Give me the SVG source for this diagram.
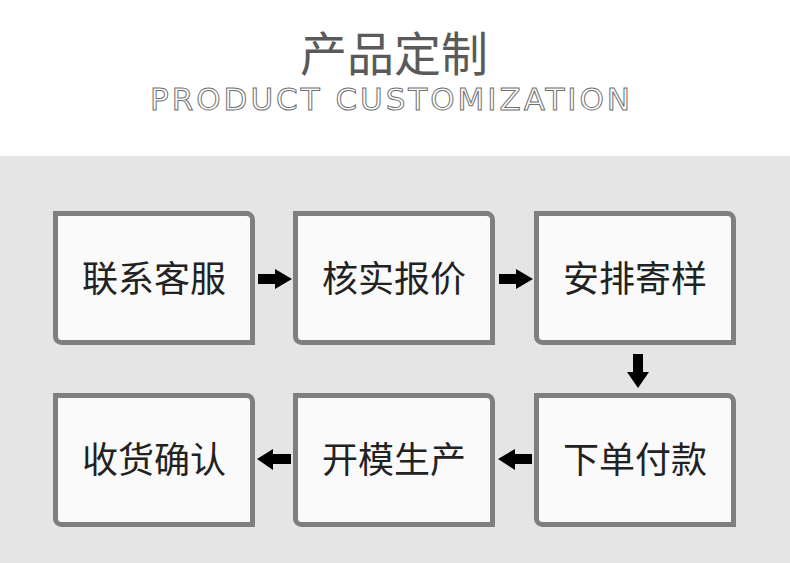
<svg xmlns="http://www.w3.org/2000/svg" width="790" height="563" viewBox="0 0 790 563">
<style>
.box{fill:#fafafa;stroke:#7f7f7f;stroke-width:5}
.lbl{font-family:"Noto Sans CJK SC","Noto Sans",sans-serif;font-size:36px;fill:#222;text-anchor:middle}
.arr{fill:#000}
</style>
<defs>
<path id="bx" d="M0,0 H191 A6,6 0 0 1 197,6 V129 H6 A6,6 0 0 1 0,123 Z"/>
</defs>
<rect x="0" y="0" width="790" height="156" fill="#ffffff"/>
<rect x="0" y="156" width="790" height="407" fill="#e5e5e5"/>
<g id="title">
<text x="394" y="71" style="font-family:'Noto Sans CJK SC',sans-serif;font-size:47px;fill:#5a5a5a;text-anchor:middle">产品定制</text>
<text x="150" y="110" textLength="480" lengthAdjust="spacing" style="font-family:'DejaVu Sans',sans-serif;font-size:31px;fill:#ffffff;stroke:#707070;stroke-width:1">PRODUCT CUSTOMIZATION</text>
</g>
<g id="n1"><use href="#bx" class="box" x="55.5" y="213.5"/><text class="lbl" x="154" y="292">联系客服</text></g>
<g id="n2"><use href="#bx" class="box" x="295.5" y="213.5"/><text class="lbl" x="394" y="292">核实报价</text></g>
<g id="n3"><use href="#bx" class="box" x="536.5" y="213.5"/><text class="lbl" x="635" y="292">安排寄样</text></g>
<g id="n4"><use href="#bx" class="box" x="536.5" y="395.5"/><text class="lbl" x="635" y="473">下单付款</text></g>
<g id="n5"><use href="#bx" class="box" x="295.5" y="395.5"/><text class="lbl" x="394" y="473">开模生产</text></g>
<g id="n6"><use href="#bx" class="box" x="55.5" y="395.5"/><text class="lbl" x="154" y="473">收货确认</text></g>
<g id="connectors">
<path class="arr" d="M258,274 H275 V269 L292,279 L275,289 V284 H258 Z"/>
<path class="arr" d="M499,274 H516 V269 L533,279 L516,289 V284 H499 Z"/>
<path class="arr" d="M633,354 H643 V372 H649 L638,388 L627,372 H633 Z"/>
<path class="arr" d="M532,454 H515 V449 L498,459 L515,470 V464 H532 Z"/>
<path class="arr" d="M291,454 H273 V449 L257,459 L273,470 V464 H291 Z"/>
</g>
</svg>
